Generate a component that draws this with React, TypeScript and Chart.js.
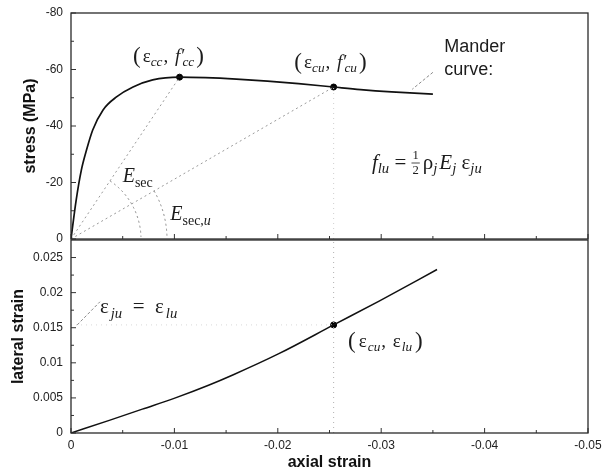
import React, { useEffect, useRef } from "react";
import { Chart, registerables } from "chart.js";

Chart.register(...registerables);

// ---------- data ----------
const stressAxialStrain = [0, -0.0005, -0.001, -0.0015, -0.0021, -0.0031, -0.0044, -0.006, -0.0079, -0.0105, -0.013, -0.016, -0.019, -0.022, -0.0254, -0.028, -0.031, -0.035];
const stressMPa = [0, -13.8, -24.4, -31.5, -38.6, -45.7, -50.3, -53.8, -56.3, -57.3, -57.1, -56.6, -55.9, -55.0, -53.8, -52.9, -52.1, -51.3];

const lateralAxialStrain = [0, -0.0037, -0.0069, -0.0101, -0.0133, -0.0157, -0.0201, -0.0254, -0.0298, -0.0354];
const lateralStrainValues = [0, 0.0018, 0.0034, 0.005, 0.0068, 0.0083, 0.0113, 0.0154, 0.0188, 0.0233];

const peakStrain = -0.0105;
const peakStress = -57.3;
const ultimateStrain = -0.0254;
const ultimateStress = -53.8;
const ultimateLateral = 0.0154;

const xTickValues = [0, -0.01, -0.02, -0.03, -0.04, -0.05];
const xTickLabels = ["0", "-0.01", "-0.02", "-0.03", "-0.04", "-0.05"];
const xMinorValues = [-0.005, -0.015, -0.025, -0.035, -0.045];

const stressTickValues = [0, -20, -40, -60, -80];
const stressTickLabels = ["0", "-20", "-40", "-60", "-80"];
const stressMinorValues = [-10, -30, -50, -70];

const lateralTickValues = [0, 0.005, 0.01, 0.015, 0.02, 0.025];
const lateralTickLabels = ["0", "0.005", "0.01", "0.015", "0.02", "0.025"];
const lateralMinorValues = [0.0025, 0.0075, 0.0125, 0.0175, 0.0225];

// ---------- drawing helpers ----------
type Seg = { t?: string; i?: boolean; sub?: boolean; sz?: number; frac?: [string, string]; dx?: number };
type Label = { x: number; y: number; segs?: Seg[]; size: number; sans?: string };
type Pointer = { from: [number, number]; to: [number, number] };
type ArcCfg = { target: [number, number]; radius: number };

const SERIF = '"Liberation Serif", "DejaVu Serif", serif';
const SANS = '"Liberation Sans", Arial, sans-serif';

function drawMath(ctx: CanvasRenderingContext2D, x: number, y: number, segs: Seg[], size: number) {
  let cx = x;
  ctx.textBaseline = "middle";
  ctx.textAlign = "left";
  for (const s of segs) {
    cx += s.dx ?? 0;
    if (s.frac) {
      const fs = size * 0.6;
      ctx.font = `${fs}px ${SERIF}`;
      const w = Math.max(ctx.measureText(s.frac[0]).width, ctx.measureText(s.frac[1]).width) + 2;
      ctx.textAlign = "center";
      ctx.fillText(s.frac[0], cx + w / 2, y - fs * 0.55);
      ctx.fillText(s.frac[1], cx + w / 2, y + fs * 0.62);
      ctx.textAlign = "left";
      ctx.beginPath();
      ctx.lineWidth = 0.8;
      ctx.moveTo(cx, y);
      ctx.lineTo(cx + w, y);
      ctx.stroke();
      cx += w + 2;
      continue;
    }
    const fs = s.sz ?? (s.sub ? size * 0.7 : size);
    ctx.font = `${s.i ? "italic " : ""}${fs}px ${SERIF}`;
    const dy = s.sub ? size * 0.3 : 0;
    ctx.fillText(s.t ?? "", cx, y + dy);
    cx += ctx.measureText(s.t ?? "").width;
  }
}

function decorPlugin(cfg: {
  xMajor: number[];
  xMinor: number[];
  yMajor: number[];
  yMinor: number[];
  labels: Label[];
  pointers: Pointer[];
  arcs: ArcCfg[];
}) {
  return {
    id: "decor",
    afterDatasetsDraw(chart: any) {
      const { ctx, chartArea: a, scales } = chart;
      const xs = scales.x;
      const ys = scales.y;
      ctx.save();
      // inner tick marks
      ctx.strokeStyle = "#333";
      ctx.lineWidth = 1;
      ctx.beginPath();
      for (const v of cfg.xMajor) {
        const p = xs.getPixelForValue(v);
        ctx.moveTo(p, a.bottom);
        ctx.lineTo(p, a.bottom - 5);
      }
      for (const v of cfg.xMinor) {
        const p = xs.getPixelForValue(v);
        ctx.moveTo(p, a.bottom);
        ctx.lineTo(p, a.bottom - 3);
      }
      for (const v of cfg.yMajor) {
        const p = ys.getPixelForValue(v);
        ctx.moveTo(a.left, p);
        ctx.lineTo(a.left + 5, p);
      }
      for (const v of cfg.yMinor) {
        const p = ys.getPixelForValue(v);
        ctx.moveTo(a.left, p);
        ctx.lineTo(a.left + 3, p);
      }
      ctx.stroke();
      // frame
      ctx.strokeStyle = "#2a2a2a";
      ctx.lineWidth = 1.3;
      ctx.strokeRect(a.left, a.top, a.right - a.left, a.bottom - a.top);
      // arcs
      const cx = xs.getPixelForValue(0);
      const cy = ys.getPixelForValue(0);
      ctx.strokeStyle = "#8a8a8a";
      ctx.lineWidth = 1;
      ctx.setLineDash([2, 3]);
      for (const arc of cfg.arcs) {
        const tx = xs.getPixelForValue(arc.target[0]);
        const ty = ys.getPixelForValue(arc.target[1]);
        const ang = Math.atan2(ty - cy, tx - cx);
        ctx.beginPath();
        ctx.arc(cx, cy, arc.radius, ang, -0.03);
        ctx.stroke();
      }
      // pointers
      ctx.setLineDash([3, 2]);
      for (const p of cfg.pointers) {
        ctx.beginPath();
        ctx.moveTo(xs.getPixelForValue(p.from[0]), ys.getPixelForValue(p.from[1]));
        ctx.lineTo(xs.getPixelForValue(p.to[0]), ys.getPixelForValue(p.to[1]));
        ctx.stroke();
      }
      ctx.setLineDash([]);
      // labels
      ctx.fillStyle = "#1c1c1c";
      ctx.strokeStyle = "#1c1c1c";
      for (const l of cfg.labels) {
        const px = xs.getPixelForValue(l.x);
        const py = ys.getPixelForValue(l.y);
        if (l.sans) {
          ctx.font = `${l.size}px ${SANS}`;
          ctx.textAlign = "left";
          ctx.textBaseline = "middle";
          ctx.fillText(l.sans, px, py);
        } else if (l.segs) {
          drawMath(ctx, px, py, l.segs, l.size);
        }
      }
      ctx.restore();
    },
  };
}

const tickFont = { family: SANS, size: 12 };
const titleFont = { family: SANS, size: 16, weight: "bold" as const };

function pairs(xs: number[], ys: number[]) {
  return xs.map((x, i) => ({ x, y: ys[i] }));
}

function noVPad(s: any) {
  s.paddingTop = 0;
  s.paddingBottom = 0;
}
function noHPad(s: any) {
  s.paddingLeft = 0;
  s.paddingRight = 0;
}

export default function App() {
  const topRef = useRef<HTMLCanvasElement | null>(null);
  const botRef = useRef<HTMLCanvasElement | null>(null);

  useEffect(() => {
    if (!topRef.current || !botRef.current) return;

    const secantStyle = { borderColor: "#9a9a9a", borderWidth: 1, borderDash: [2, 3], pointRadius: 0, fill: false };

    const top = new Chart(topRef.current, {
      type: "line",
      data: {
        datasets: [
          {
            data: pairs(stressAxialStrain, stressMPa),
            borderColor: "#111",
            borderWidth: 1.7,
            pointRadius: 0,
            cubicInterpolationMode: "monotone",
            fill: false,
          },
          { data: [{ x: 0, y: 0 }, { x: peakStrain, y: peakStress }], ...secantStyle },
          { data: [{ x: 0, y: 0 }, { x: ultimateStrain, y: ultimateStress }], ...secantStyle },
          {
            data: [{ x: ultimateStrain, y: 0 }, { x: ultimateStrain, y: ultimateStress }],
            borderColor: "#cfcfcf",
            borderWidth: 1,
            borderDash: [1, 4],
            pointRadius: 0,
          },
          {
            data: [{ x: peakStrain, y: peakStress }, { x: ultimateStrain, y: ultimateStress }],
            showLine: false,
            pointRadius: 3,
            pointBackgroundColor: "#000",
            pointBorderColor: "#000",
          },
        ],
      } as any,
      options: {
        animation: false,
        responsive: false,
        maintainAspectRatio: false,
        layout: { padding: { top: 13, right: 17, left: 0, bottom: 8 } },
        plugins: { legend: { display: false }, tooltip: { enabled: false } },
        scales: {
          x: {
            type: "linear",
            min: -0.05,
            max: 0,
            reverse: true,
            ticks: { display: false },
            grid: { display: false, drawTicks: false },
            border: { display: false },
            afterFit: (s: any) => {
              s.height = 1;
              noHPad(s);
            },
          },
          y: {
            type: "linear",
            min: -80,
            max: 0,
            reverse: true,
            grid: { display: false, drawTicks: false },
            border: { display: false },
            afterBuildTicks: (s: any) => {
              s.ticks = stressTickValues.map((v) => ({ value: v }));
            },
            ticks: {
              font: tickFont,
              color: "#222",
              padding: 8,
              callback: (v: any) => stressTickLabels[stressTickValues.indexOf(Number(v))] ?? "",
            },
            title: { display: true, text: "stress (MPa)", font: titleFont, color: "#111", padding: { top: 21, bottom: 0 } },
            afterFit: (s: any) => {
              s.width = 71;
              noVPad(s);
            },
          },
        },
      } as any,
      plugins: [
        decorPlugin({
          xMajor: xTickValues,
          xMinor: xMinorValues,
          yMajor: stressTickValues,
          yMinor: stressMinorValues,
          arcs: [
            { target: [peakStrain, peakStress], radius: 70 },
            { target: [ultimateStrain, ultimateStress], radius: 96 },
          ],
          pointers: [{ from: [-0.035, -59], to: [-0.033, -53] }],
          labels: [
            {
              x: -0.006,
              y: -64.4,
              size: 19,
              segs: [
                { t: "(", sz: 23 },
                { t: "ε", dx: 2 },
                { t: "cc", sub: true, i: true },
                { t: ", ", dx: 1 },
                { t: "f", i: true, dx: 2 },
                { t: "′", dx: 1 },
                { t: "cc", sub: true, i: true, dx: -3 },
                { t: ")", sz: 23, dx: 2 },
              ],
            },
            {
              x: -0.0216,
              y: -62.3,
              size: 19,
              segs: [
                { t: "(", sz: 23 },
                { t: "ε", dx: 2 },
                { t: "cu", sub: true, i: true },
                { t: ", ", dx: 1 },
                { t: "f", i: true, dx: 2 },
                { t: "′", dx: 1 },
                { t: "cu", sub: true, i: true, dx: -3 },
                { t: ")", sz: 23, dx: 2 },
              ],
            },
            { x: -0.0361, y: -68, size: 18, sans: "Mander" },
            { x: -0.0361, y: -59.8, size: 18, sans: "curve:" },
            {
              x: -0.0291,
              y: -26.9,
              size: 21,
              segs: [
                { t: "f", i: true },
                { t: "lu", sub: true, i: true },
                { t: " = " },
                { frac: ["1", "2"] },
                { t: "ρ", dx: 1 },
                { t: "j", sub: true, i: true },
                { t: "E", i: true, dx: 2 },
                { t: "j", sub: true, i: true },
                { t: " ε" },
                { t: "ju", sub: true, i: true },
              ],
            },
            {
              x: -0.005,
              y: -21.9,
              size: 20,
              segs: [
                { t: "E", i: true },
                { t: "sec", sub: true },
              ],
            },
            {
              x: -0.0096,
              y: -8.5,
              size: 20,
              segs: [
                { t: "E", i: true },
                { t: "sec,", sub: true },
                { t: "u", sub: true, i: true },
              ],
            },
          ],
        }),
      ],
    });

    const bottom = new Chart(botRef.current, {
      type: "line",
      data: {
        datasets: [
          {
            data: pairs(lateralAxialStrain, lateralStrainValues),
            borderColor: "#111",
            borderWidth: 1.5,
            pointRadius: 0,
            cubicInterpolationMode: "monotone",
            fill: false,
          },
          {
            data: [{ x: ultimateStrain, y: 0 }, { x: ultimateStrain, y: 0.0275 }],
            borderColor: "#b0b0b0",
            borderWidth: 1,
            borderDash: [1, 4],
            pointRadius: 0,
          },
          {
            data: [{ x: 0, y: ultimateLateral }, { x: ultimateStrain, y: ultimateLateral }],
            borderColor: "#d8d8d8",
            borderWidth: 1,
            borderDash: [1, 4],
            pointRadius: 0,
          },
          {
            data: [{ x: ultimateStrain, y: ultimateLateral }],
            showLine: false,
            pointRadius: 3,
            pointBackgroundColor: "#000",
            pointBorderColor: "#000",
          },
        ],
      } as any,
      options: {
        animation: false,
        responsive: false,
        maintainAspectRatio: false,
        layout: { padding: { top: 10, right: 17, left: 0, bottom: 0 } },
        plugins: { legend: { display: false }, tooltip: { enabled: false } },
        scales: {
          x: {
            type: "linear",
            min: -0.05,
            max: 0,
            reverse: true,
            grid: { display: false, drawTicks: false },
            border: { display: false },
            afterBuildTicks: (s: any) => {
              s.ticks = xTickValues.map((v) => ({ value: v }));
            },
            ticks: {
              font: tickFont,
              color: "#222",
              padding: 5,
              maxRotation: 0,
              callback: (v: any) => xTickLabels[xTickValues.indexOf(Number(v))] ?? "",
            },
            title: { display: true, text: "axial strain", font: titleFont, color: "#111", padding: { top: 0, bottom: 0 } },
            afterFit: (s: any) => {
              s.height = 39;
              noHPad(s);
            },
          },
          y: {
            type: "linear",
            min: 0,
            max: 0.0275,
            grid: { display: false, drawTicks: false },
            border: { display: false },
            afterBuildTicks: (s: any) => {
              s.ticks = lateralTickValues.map((v) => ({ value: v }));
            },
            ticks: {
              font: tickFont,
              color: "#222",
              padding: 8,
              callback: (v: any) => {
                const idx = lateralTickValues.findIndex((t) => Math.abs(t - Number(v)) < 1e-9);
                return idx >= 0 ? lateralTickLabels[idx] : "";
              },
            },
            title: { display: true, text: "lateral strain", font: titleFont, color: "#111", padding: { top: 9, bottom: 0 } },
            afterFit: (s: any) => {
              s.width = 71;
              noVPad(s);
            },
          },
        },
      } as any,
      plugins: [
        decorPlugin({
          xMajor: xTickValues,
          xMinor: xMinorValues,
          yMajor: lateralTickValues,
          yMinor: lateralMinorValues,
          arcs: [],
          pointers: [{ from: [-0.0006, 0.0154], to: [-0.0028, 0.0187] }],
          labels: [
            {
              x: -0.0028,
              y: 0.0179,
              size: 21,
              segs: [
                { t: "ε" },
                { t: "ju", sub: true, i: true, dx: 2 },
                { t: "  =  " },
                { t: "ε" },
                { t: "lu", sub: true, i: true, dx: 2 },
              ],
            },
            {
              x: -0.0268,
              y: 0.013,
              size: 19,
              segs: [
                { t: "(", sz: 23 },
                { t: "ε", dx: 3 },
                { t: "cu", sub: true, i: true, dx: 1 },
                { t: ", ", dx: 1 },
                { t: "ε", dx: 2 },
                { t: "lu", sub: true, i: true, dx: 1 },
                { t: ")", sz: 23, dx: 3 },
              ],
            },
          ],
        }),
      ],
    });

    return () => {
      top.destroy();
      bottom.destroy();
    };
  }, []);

  return (
    <div style={{ position: "absolute", left: 0, top: 0, width: 605, height: 472, background: "#fff" }}>
      <canvas ref={topRef} width={605} height={248} style={{ position: "absolute", left: 0, top: 0, width: 605, height: 248 }} />
      <canvas ref={botRef} width={605} height={242} style={{ position: "absolute", left: 0, top: 230, width: 605, height: 242 }} />
    </div>
  );
}
